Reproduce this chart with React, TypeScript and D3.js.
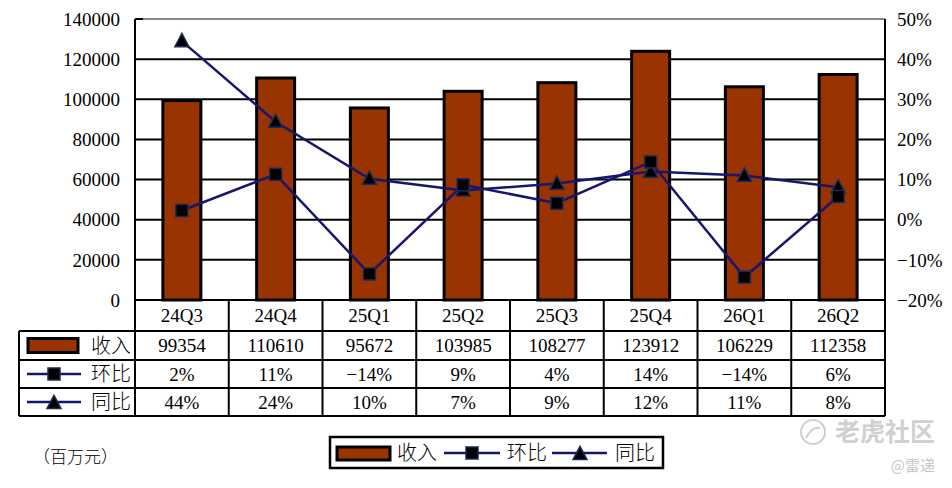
import React from 'react';
import * as d3 from 'd3';

const quarters = ['24Q3', '24Q4', '25Q1', '25Q2', '25Q3', '25Q4', '26Q1', '26Q2'];
const revenue = [99354, 110610, 95672, 103985, 108277, 123912, 106229, 112358];
// 环比 / 同比 as plotted (percent)
const qoq = [2.3, 11.3, -13.5, 8.7, 4.1, 14.4, -14.3, 5.8];
const yoy = [44.5, 24.4, 10.2, 7.3, 9.0, 12.0, 11.0, 8.1];
const qoqLabels = ['2%', '11%', '−14%', '9%', '4%', '14%', '−14%', '6%'];
const yoyLabels = ['44%', '24%', '10%', '7%', '9%', '12%', '11%', '8%'];
const leftTicks = [0, 20000, 40000, 60000, 80000, 100000, 120000, 140000];
const rightTicks = [-20, -10, 0, 10, 20, 30, 40, 50];

const W = 952;
const H = 488;
const LEFT = 135;
const RIGHT = 885;
const TOP = 19;
const BOTTOM = 300;
const TABLE_X = 19;
const ROWS = [300, 331, 360, 388, 416];

const BAR = '#993300';
const NAVY = '#16166e';
const SERIF = '"Liberation Serif", "DejaVu Serif", serif';
const CJK = '"Noto Sans CJK SC", sans-serif';

const Square = ({ x, y, s = 12 }: { x: number; y: number; s?: number }) => (
  <rect x={x - s / 2} y={y - s / 2} width={s} height={s} fill="#000" stroke="#1c2a55" strokeWidth={1.5} />
);

const Triangle = ({ x, y, s = 14 }: { x: number; y: number; s?: number }) => (
  <path
    d={`M${x},${y - s * 0.55} L${x + s / 2},${y + s * 0.4} L${x - s / 2},${y + s * 0.4} Z`}
    fill="#000"
    stroke="#1c2a55"
    strokeWidth={1.5}
  />
);

function App() {
  const x = d3.scaleBand<string>().domain(quarters).range([LEFT, RIGHT]);
  const yL = d3.scaleLinear().domain([0, 140000]).range([BOTTOM, TOP]);
  const yR = d3.scaleLinear().domain([-20, 50]).range([BOTTOM, TOP]);
  const cx = (q: string) => (x(q) as number) + x.bandwidth() / 2;
  const barW = 38;

  const line = (vals: number[]) =>
    d3
      .line<number>()
      .x((_, i) => cx(quarters[i]))
      .y((d) => yR(d))(vals) as string;

  const rowMid = (r: number) => (ROWS[r] + ROWS[r + 1]) / 2;

  return (
    <div style={{ position: 'fixed', left: 0, top: 0 }}>
      <svg width={W} height={H} viewBox={`0 0 ${W} ${H}`} style={{ background: '#fff', display: 'block' }}>
        {/* gridlines */}
        {leftTicks.map((t) => (
          <line
            key={`g${t}`}
            x1={LEFT}
            x2={RIGHT}
            y1={yL(t)}
            y2={yL(t)}
            stroke={t === 140000 ? '#888' : '#000'}
            strokeWidth={2}
          />
        ))}
        <line x1={LEFT} x2={LEFT + 8} y1={TOP} y2={TOP} stroke="#000" strokeWidth={2} />
        <line x1={RIGHT} x2={RIGHT} y1={TOP} y2={BOTTOM} stroke="#000" strokeWidth={2} />
        <line x1={LEFT} x2={LEFT} y1={TOP} y2={BOTTOM} stroke="#000" strokeWidth={2} />

        {/* left axis labels */}
        {leftTicks.map((t) => (
          <text key={`l${t}`} x={120} y={yL(t)} dy="0.35em" textAnchor="end" fontFamily={SERIF} fontSize={19}>
            {t}
          </text>
        ))}
        {/* right axis labels */}
        {rightTicks.map((t) => (
          <text key={`r${t}`} x={897} y={yR(t)} dy="0.35em" textAnchor="start" fontFamily={SERIF} fontSize={19}>
            {t < 0 ? `−${-t}%` : `${t}%`}
          </text>
        ))}

        {/* bars */}
        {revenue.map((v, i) => (
          <rect
            key={`b${i}`}
            x={cx(quarters[i]) - barW / 2}
            y={yL(v)}
            width={barW}
            height={BOTTOM - yL(v)}
            fill={BAR}
            stroke="#000"
            strokeWidth={3}
          />
        ))}

        {/* lines */}
        <path d={line(yoy)} fill="none" stroke={NAVY} strokeWidth={2.5} />
        <path d={line(qoq)} fill="none" stroke={NAVY} strokeWidth={2.5} />
        {yoy.map((v, i) => (
          <Triangle key={`t${i}`} x={cx(quarters[i])} y={yR(v)} />
        ))}
        {qoq.map((v, i) => (
          <Square key={`s${i}`} x={cx(quarters[i])} y={yR(v)} />
        ))}

        {/* data table */}
        <g stroke="#000" strokeWidth={2} fill="none">
          <line x1={LEFT} x2={RIGHT} y1={ROWS[0]} y2={ROWS[0]} />
          {ROWS.slice(1).map((r) => (
            <line key={`h${r}`} x1={TABLE_X} x2={RIGHT} y1={r} y2={r} />
          ))}
          <line x1={TABLE_X} x2={TABLE_X} y1={ROWS[1]} y2={ROWS[4]} />
          {quarters.map((q) => (
            <line key={`v${q}`} x1={x(q) as number} x2={x(q) as number} y1={ROWS[0]} y2={ROWS[4]} />
          ))}
          <line x1={RIGHT} x2={RIGHT} y1={ROWS[0]} y2={ROWS[4]} />
        </g>
        {quarters.map((q, i) => (
          <g key={`c${q}`} fontFamily={SERIF} fontSize={19} textAnchor="middle">
            <text x={cx(q)} y={rowMid(0)} dy="0.35em">{q}</text>
            <text x={cx(q)} y={rowMid(1)} dy="0.35em">{revenue[i]}</text>
            <text x={cx(q)} y={rowMid(2)} dy="0.35em">{qoqLabels[i]}</text>
            <text x={cx(q)} y={rowMid(3)} dy="0.35em">{yoyLabels[i]}</text>
          </g>
        ))}
        {/* row headers */}
        <rect x={28} y={rowMid(1) - 7} width={50} height={14} fill={BAR} stroke="#000" strokeWidth={3} />
        <line x1={27} x2={81} y1={rowMid(2)} y2={rowMid(2)} stroke={NAVY} strokeWidth={2.5} />
        <Square x={54} y={rowMid(2)} />
        <line x1={27} x2={81} y1={rowMid(3)} y2={rowMid(3)} stroke={NAVY} strokeWidth={2.5} />
        <Triangle x={54} y={rowMid(3) + 1} />
        {['收入', '环比', '同比'].map((t, i) => (
          <text
            key={`rh${t}`}
            x={131}
            y={rowMid(i + 1)}
            dy="0.36em"
            textAnchor="end"
            fontFamily={CJK}
            fontSize={20}
            fontWeight={300}
          >
            {t}
          </text>
        ))}

        {/* unit */}
        <text x={33} y={457} dy="0.36em" fontFamily={CJK} fontSize={17} fontWeight={300}>
          （百万元）
        </text>

        {/* legend */}
        <rect x={330} y={437} width={333} height={31} fill="#fff" stroke="#000" strokeWidth={2.5} />
        <rect x={337} y={447} width={53} height={13} fill={BAR} stroke="#000" strokeWidth={3} />
        <text x={397} y={453} dy="0.36em" fontFamily={CJK} fontSize={20} fontWeight={300}>收入</text>
        <line x1={444} x2={500} y1={453} y2={453} stroke={NAVY} strokeWidth={2.5} />
        <Square x={472} y={453} />
        <text x={507} y={453} dy="0.36em" fontFamily={CJK} fontSize={20} fontWeight={300}>环比</text>
        <line x1={552} x2={607} y1={453} y2={453} stroke={NAVY} strokeWidth={2.5} />
        <Triangle x={580} y={454} />
        <text x={615} y={453} dy="0.36em" fontFamily={CJK} fontSize={20} fontWeight={300}>同比</text>

        {/* watermark */}
        <circle cx={813} cy={432} r={12} fill="none" stroke="#d0d0d0" strokeWidth={2} />
        <path d="M806,438 Q812,426 820,428" fill="none" stroke="#d0d0d0" strokeWidth={2} />
        <text x={835} y={432} dy="0.36em" fontFamily={CJK} fontSize={25} fill="#d0d0d0" fontWeight={700}>
          老虎社区
        </text>
        <text x={935} y={466} dy="0.36em" textAnchor="end" fontFamily={CJK} fontSize={15} fill="#c8c8c8">
          @雷递
        </text>
      </svg>
    </div>
  );
}

export default App;
